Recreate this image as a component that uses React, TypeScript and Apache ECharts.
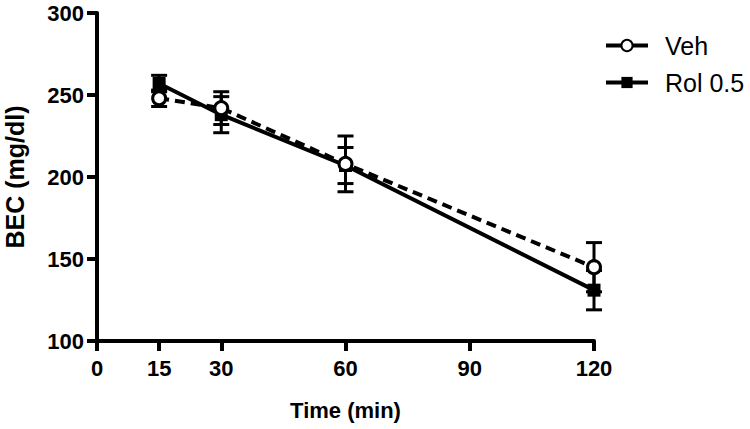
import React, { useEffect, useRef } from "react";
import * as echarts from "echarts";

const times = [15, 30, 60, 120];
const vehMean = [248, 242, 208, 145];
const vehErr = [5, 10, 17, 15];
const rolMean = [257, 238, 207, 131];
const rolErr = [5, 11, 11, 12];
const xTicks = [0, 15, 30, 60, 90, 120];
const yTicks = [100, 150, 200, 250, 300];

const FONT = "'Liberation Sans', Arial, sans-serif";

function errData(mean: number[], err: number[]) {
  return times.map((t, i) => [t, mean[i] - err[i], mean[i] + err[i]]);
}

function errRender(params: any, api: any) {
  const x = api.value(0);
  const lo = api.coord([x, api.value(1)]);
  const hi = api.coord([x, api.value(2)]);
  const w = 8;
  const style = { stroke: "#000", lineWidth: 3 };
  return {
    type: "group",
    children: [
      { type: "line", shape: { x1: lo[0], y1: lo[1], x2: hi[0], y2: hi[1] }, style },
      { type: "line", shape: { x1: lo[0] - w, y1: lo[1], x2: lo[0] + w, y2: lo[1] }, style },
      { type: "line", shape: { x1: hi[0] - w, y1: hi[1], x2: hi[0] + w, y2: hi[1] }, style },
    ],
  };
}

export default function App() {
  const ref = useRef<HTMLDivElement>(null);
  useEffect(() => {
    const chart = echarts.init(ref.current!, null, { renderer: "svg" });
    chart.setOption({
      animation: false,
      backgroundColor: "#fff",
      grid: { left: 97, top: 13, right: 156, bottom: 88, containLabel: false, outerBoundsMode: "none" },
      legend: {
        left: 599,
        top: 28,
        orient: "vertical",
        itemGap: 12,
        itemWidth: 42,
        itemHeight: 14,
        textStyle: { fontFamily: FONT, fontSize: 25, color: "#000", padding: [0, 0, 0, 12] },
        data: [
          { name: "Veh", lineStyle: { type: "solid", width: 4 } },
          { name: "Rol 0.5", lineStyle: { type: "solid", width: 4 } },
        ],
      },
      xAxis: {
        type: "value",
        min: 0,
        max: 120,
        interval: 15,
        name: "Time (min)",
        nameLocation: "middle",
        nameGap: 58,
        nameTextStyle: { fontFamily: FONT, fontSize: 22, fontWeight: "bold", color: "#000" },
        axisLine: { lineStyle: { color: "#000", width: 4 } },
        axisTick: { show: true, length: 10, lineStyle: { color: "#000", width: 4 }, customValues: xTicks },
        axisLabel: { fontFamily: FONT, fontSize: 22, fontWeight: "bold", color: "#000", margin: 16, customValues: xTicks },
        splitLine: { show: false },
      },
      yAxis: {
        type: "value",
        min: 100,
        max: 300,
        interval: 50,
        name: "BEC (mg/dl)",
        nameLocation: "middle",
        nameGap: 70,
        nameTextStyle: { fontFamily: FONT, fontSize: 25, fontWeight: "bold", color: "#000" },
        axisLine: { show: true, lineStyle: { color: "#000", width: 4 } },
        axisTick: { show: true, length: 10, lineStyle: { color: "#000", width: 4 }, customValues: yTicks },
        axisLabel: { fontFamily: FONT, fontSize: 22, fontWeight: "bold", color: "#000", margin: 13, customValues: yTicks },
        splitLine: { show: false },
      },
      series: [
        {
          type: "custom",
          renderItem: errRender,
          data: errData(vehMean, vehErr),
          z: 1,
          silent: true,
        },
        {
          type: "custom",
          renderItem: errRender,
          data: errData(rolMean, rolErr),
          z: 1,
          silent: true,
        },
        {
          name: "Rol 0.5",
          type: "line",
          data: times.map((t, i) => [t, rolMean[i]]),
          symbol: "rect",
          symbolSize: 13,
          itemStyle: { color: "#000", borderColor: "#000", borderWidth: 0 },
          lineStyle: { color: "#000", width: 4, type: "solid" },
          z: 3,
        },
        {
          name: "Veh",
          type: "line",
          data: times.map((t, i) => [t, vehMean[i]]),
          symbol: "circle",
          symbolSize: 13,
          itemStyle: { color: "#fff", borderColor: "#000", borderWidth: 3 },
          lineStyle: { color: "#000", width: 4, type: [10, 6] },
          z: 4,
        },
      ],
    });
    return () => chart.dispose();
  }, []);
  return <div ref={ref} style={{ width: 750, height: 429, position: "absolute", left: 0, top: 0 }} />;
}
